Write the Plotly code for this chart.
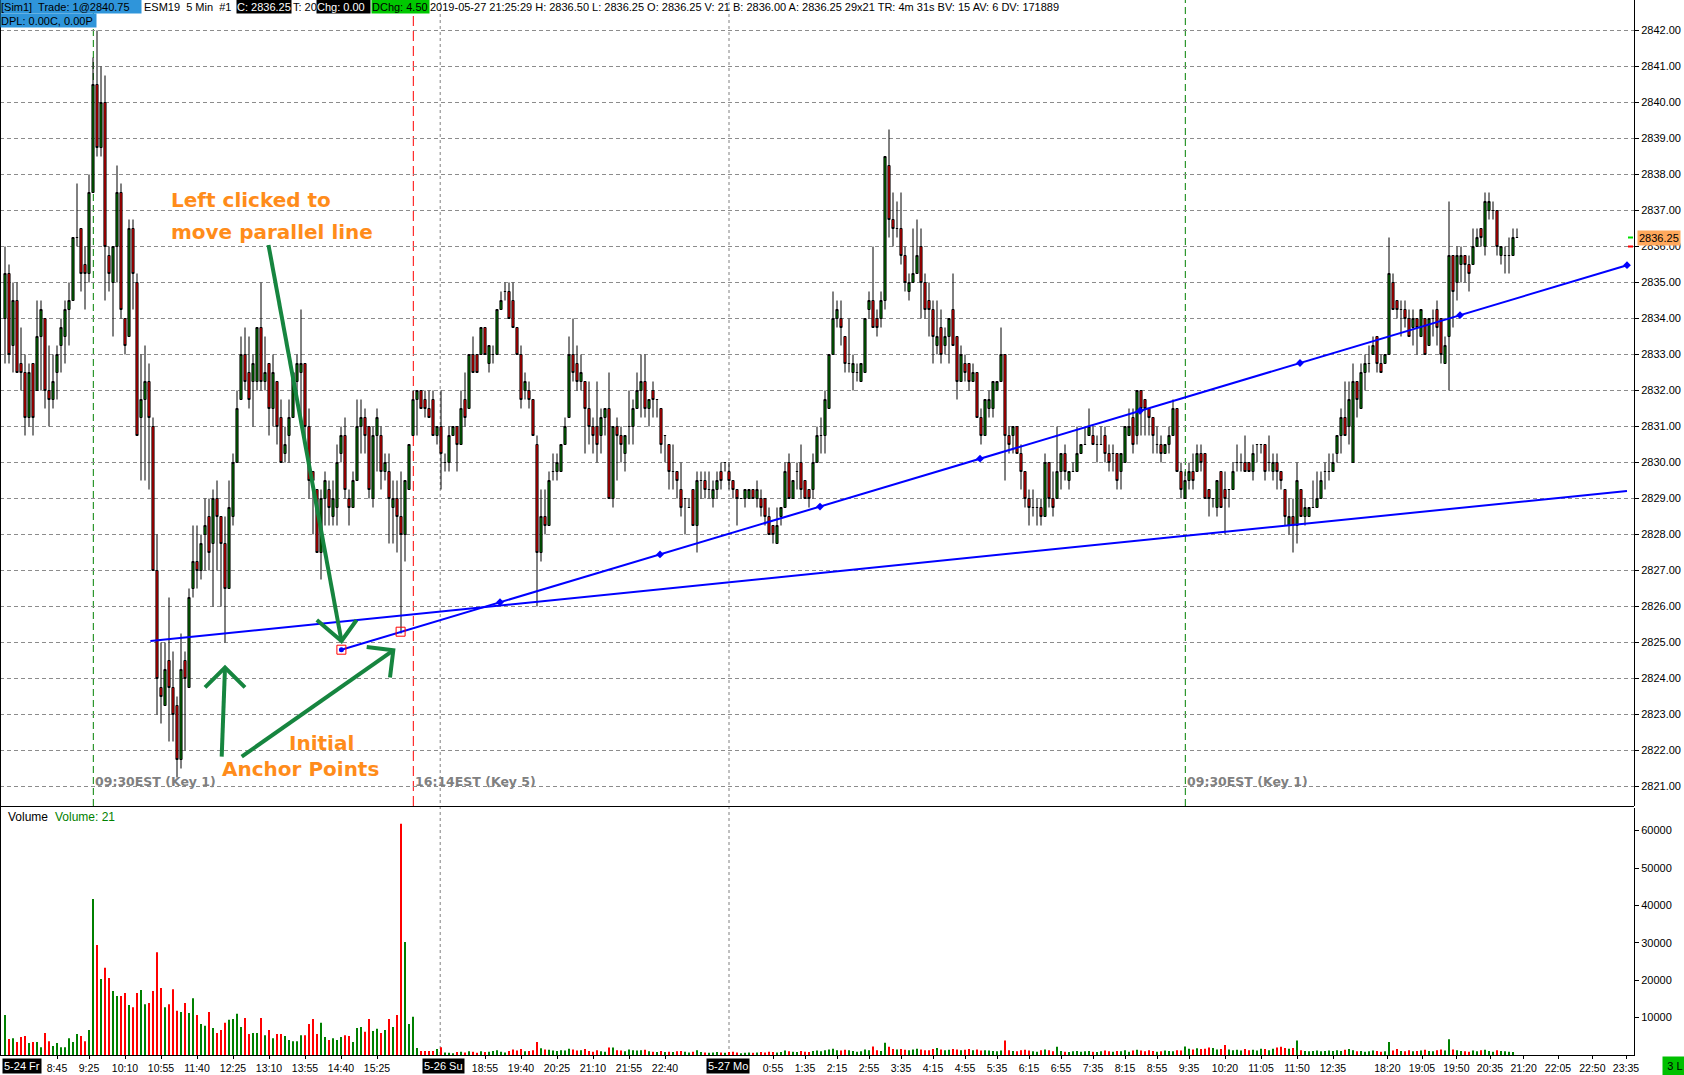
import plotly.graph_objects as go

# ------------------------------------------------------------------ DATA
# 5-minute bars, bar index 0 = 5-24 07:40. Rows are (open, high, low, close).
fri_pre = [
    (2834.0, 2836.0, 2832.75, 2835.25), (2835.25, 2835.5, 2832.75, 2833.0),
    (2833.25, 2835.0, 2832.5, 2834.5), (2834.5, 2835.0, 2832.5, 2832.5),
    (2832.75, 2833.75, 2832.0, 2832.5), (2832.5, 2833.0, 2830.75, 2831.25),
    (2831.25, 2832.75, 2831.0, 2832.5), (2832.75, 2832.75, 2830.75, 2831.25),
    (2832.0, 2834.5, 2832.0, 2833.5), (2833.5, 2834.5, 2832.0, 2834.25),
    (2834.0, 2834.0, 2831.5, 2832.0), (2832.0, 2833.25, 2831.0, 2831.75),
    (2831.75, 2833.0, 2831.5, 2832.25), (2832.5, 2833.25, 2831.75, 2833.0),
    (2833.25, 2834.0, 2832.5, 2833.75), (2833.5, 2834.5, 2832.75, 2834.25),
    (2834.25, 2835.0, 2833.25, 2834.5), (2834.5, 2836.25, 2834.5, 2836.25),
    (2836.25, 2837.75, 2836.0, 2836.25), (2836.5, 2836.5, 2834.75, 2835.25),
    (2835.5, 2836.0, 2834.25, 2835.25), (2835.25, 2838.0, 2835.0, 2837.5),
]
fri_rth = [
    (2837.5, 2841.25, 2837.5, 2840.5), (2840.5, 2842.0, 2838.5, 2838.75),
    (2838.75, 2841.0, 2838.5, 2840.0), (2840.0, 2840.75, 2834.5, 2836.0),
    (2835.75, 2836.0, 2834.75, 2835.25), (2835.0, 2836.0, 2833.5, 2836.0),
    (2836.0, 2838.25, 2835.0, 2837.5), (2837.5, 2837.75, 2834.0, 2834.25),
    (2834.0, 2834.0, 2833.0, 2833.25), (2833.5, 2836.75, 2833.5, 2836.5),
    (2836.5, 2836.75, 2834.25, 2835.25), (2835.0, 2835.25, 2830.75, 2830.75),
    (2831.25, 2833.0, 2829.5, 2831.75), (2831.75, 2833.25, 2829.5, 2832.25),
    (2832.25, 2832.75, 2829.25, 2831.25), (2831.0, 2831.25, 2827.0, 2827.0),
    (2827.0, 2828.0, 2823.0, 2824.0), (2823.75, 2825.0, 2822.75, 2823.5),
    (2823.25, 2825.0, 2823.25, 2824.25), (2824.5, 2826.25, 2822.25, 2823.75),
    (2823.75, 2824.75, 2822.25, 2823.0), (2823.25, 2823.5, 2821.25, 2821.75),
    (2821.75, 2825.25, 2821.5, 2824.25), (2824.5, 2824.75, 2822.0, 2824.0),
    (2823.75, 2826.5, 2823.75, 2826.25), (2826.5, 2828.25, 2826.25, 2827.25),
    (2827.25, 2828.25, 2826.5, 2827.0), (2827.0, 2828.0, 2826.75, 2827.75),
    (2828.0, 2829.0, 2827.0, 2828.25), (2828.5, 2829.0, 2827.0, 2827.5),
    (2827.75, 2829.25, 2826.0, 2829.0), (2829.0, 2829.5, 2827.0, 2828.5),
    (2828.5, 2828.5, 2826.0, 2827.75), (2827.75, 2828.5, 2825.0, 2826.5),
    (2826.5, 2829.5, 2826.5, 2828.75), (2828.5, 2830.25, 2828.25, 2830.0),
    (2830.0, 2832.0, 2830.0, 2831.5), (2831.75, 2833.5, 2831.75, 2833.0),
    (2833.0, 2833.75, 2832.0, 2832.25), (2832.5, 2833.5, 2831.5, 2831.75),
    (2832.25, 2833.0, 2831.0, 2832.75), (2832.25, 2833.75, 2832.0, 2833.75),
    (2833.75, 2835.0, 2832.0, 2832.25), (2832.25, 2833.5, 2832.0, 2832.5),
    (2832.75, 2832.75, 2830.75, 2831.5), (2831.5, 2833.0, 2831.0, 2832.5),
    (2832.25, 2832.25, 2830.5, 2831.0), (2831.25, 2831.75, 2830.0, 2830.0),
    (2830.25, 2831.0, 2830.0, 2830.5), (2830.75, 2831.75, 2830.0, 2831.25),
    (2831.25, 2832.5, 2831.25, 2832.5), (2832.25, 2833.0, 2831.75, 2832.75),
    (2832.5, 2834.25, 2831.0, 2832.75), (2832.75, 2832.75, 2830.5, 2831.0),
    (2831.0, 2831.5, 2829.0, 2829.5), (2829.75, 2829.75, 2828.0, 2829.5),
    (2829.25, 2829.25, 2827.5, 2827.5), (2827.5, 2829.25, 2826.75, 2829.0),
    (2829.0, 2829.75, 2828.25, 2829.5), (2829.25, 2829.5, 2828.25, 2828.75),
    (2828.5, 2829.5, 2828.25, 2829.0), (2828.75, 2830.5, 2828.25, 2830.0),
    (2830.25, 2831.0, 2830.0, 2830.75), (2830.75, 2831.25, 2829.0, 2829.25),
    (2829.0, 2829.25, 2828.25, 2828.75), (2828.75, 2829.75, 2828.75, 2829.5),
    (2829.5, 2831.75, 2829.5, 2831.0), (2831.0, 2831.75, 2830.25, 2831.25),
    (2831.25, 2831.5, 2830.25, 2830.75), (2831.0, 2831.0, 2829.0, 2829.25),
    (2829.0, 2831.0, 2828.75, 2830.75), (2830.75, 2831.5, 2829.75, 2831.25),
    (2830.75, 2831.0, 2829.25, 2829.75), (2829.75, 2830.25, 2829.5, 2830.0),
    (2829.75, 2830.25, 2827.75, 2829.0), (2828.75, 2829.5, 2827.75, 2829.0),
    (2829.0, 2829.5, 2827.5, 2828.5), (2828.5, 2829.75, 2825.25, 2828.0),
    (2828.0, 2829.5, 2827.25, 2829.5), (2829.25, 2830.5, 2829.25, 2830.5),
    (2830.75, 2832.0, 2830.75, 2831.75), (2831.75, 2832.0, 2830.75, 2832.0),
    (2832.0, 2832.0, 2831.5, 2831.5), (2831.75, 2832.0, 2831.25, 2831.5),
    (2831.5, 2832.0, 2831.25, 2831.25), (2831.75, 2832.0, 2830.75, 2830.75),
    (2830.75, 2831.0, 2830.5, 2831.0),
]
sun_eve = [
    (2831.0, 2832.0, 2829.25, 2830.25), (2830.0, 2830.25, 2829.75, 2830.0),
    (2830.0, 2831.0, 2829.75, 2830.75), (2830.75, 2831.0, 2830.75, 2831.0),
    (2831.0, 2831.0, 2829.75, 2830.5), (2830.5, 2832.0, 2830.5, 2831.5),
    (2831.75, 2832.5, 2831.0, 2831.25), (2831.5, 2833.0, 2831.5, 2833.0),
    (2833.0, 2833.5, 2832.5, 2832.5), (2833.0, 2833.0, 2832.5, 2832.5),
    (2833.0, 2833.75, 2833.0, 2833.75), (2833.75, 2833.75, 2833.0, 2833.0),
    (2832.75, 2833.25, 2832.5, 2833.25), (2833.0, 2833.25, 2832.75, 2833.0),
    (2833.0, 2834.25, 2833.0, 2834.25), (2834.25, 2834.75, 2834.25, 2834.5),
    (2834.75, 2835.0, 2834.5, 2834.75), (2834.75, 2835.0, 2834.0, 2834.0),
    (2834.5, 2835.0, 2833.75, 2833.75), (2833.75, 2833.75, 2833.0, 2833.0),
    (2833.0, 2833.25, 2831.5, 2831.75), (2832.0, 2832.5, 2831.75, 2832.25),
    (2832.0, 2832.25, 2831.5, 2831.75), (2831.75, 2831.75, 2830.75, 2830.75),
    (2830.5, 2830.75, 2826.0, 2827.5), (2827.5, 2829.25, 2827.25, 2828.5),
    (2828.5, 2829.25, 2828.0, 2828.25), (2828.25, 2829.75, 2828.25, 2829.5),
    (2829.75, 2830.25, 2829.5, 2829.75), (2829.75, 2830.25, 2829.5, 2830.0),
    (2829.75, 2830.5, 2829.75, 2830.5), (2830.5, 2831.25, 2830.5, 2831.0),
    (2831.25, 2833.5, 2831.25, 2833.0), (2833.0, 2834.0, 2832.25, 2832.5),
    (2832.75, 2833.25, 2832.0, 2832.25), (2832.25, 2833.0, 2832.0, 2832.5),
    (2832.25, 2832.25, 2830.25, 2831.5), (2831.5, 2832.25, 2830.5, 2831.0),
    (2831.0, 2831.25, 2830.25, 2830.75), (2831.0, 2832.25, 2830.0, 2830.5),
    (2830.75, 2831.5, 2830.25, 2831.25), (2831.25, 2831.5, 2830.75, 2831.5),
    (2831.5, 2832.5, 2829.0, 2829.0), (2829.0, 2831.0, 2828.75, 2831.0),
    (2831.0, 2831.25, 2829.5, 2830.75), (2830.75, 2831.0, 2830.0, 2830.5),
    (2830.25, 2830.75, 2829.75, 2830.75), (2831.0, 2832.0, 2830.5, 2831.0),
    (2831.0, 2831.75, 2830.5, 2831.5), (2831.5, 2832.5, 2831.5, 2832.0),
    (2832.0, 2833.0, 2831.25, 2832.25), (2832.25, 2833.0, 2831.25, 2831.5),
    (2831.5, 2831.75, 2831.0, 2831.75), (2832.0, 2832.25, 2831.25, 2831.75),
    (2831.75, 2831.75, 2831.25, 2831.75), (2831.5, 2831.5, 2830.25, 2830.5),
    (2830.75, 2830.75, 2830.0, 2830.75), (2830.5, 2830.5, 2829.25, 2829.75),
    (2829.75, 2830.5, 2829.25, 2829.75), (2829.75, 2829.75, 2829.0, 2829.5),
    (2829.25, 2830.0, 2828.5, 2828.75), (2829.0, 2829.0, 2828.0, 2829.0),
    (2828.75, 2829.0, 2828.75, 2828.75), (2829.25, 2829.25, 2828.25, 2828.25),
    (2828.25, 2829.75, 2827.5, 2829.5), (2829.5, 2829.75, 2829.0, 2829.5),
    (2829.5, 2829.75, 2829.0, 2829.25), (2829.25, 2829.75, 2829.0, 2829.25),
    (2829.0, 2829.5, 2828.75, 2829.25), (2829.25, 2829.75, 2829.0, 2829.5),
    (2829.75, 2830.0, 2829.25, 2829.5), (2830.0, 2830.0, 2829.75, 2830.0),
]
mon_night = [
    (2829.75, 2830.0, 2829.25, 2829.5), (2829.5, 2829.5, 2829.0, 2829.25),
    (2829.25, 2829.25, 2828.25, 2829.0), (2829.0, 2829.0, 2829.0, 2829.0),
    (2829.0, 2829.25, 2828.75, 2829.25), (2829.0, 2829.25, 2829.0, 2829.25),
    (2829.25, 2829.25, 2829.0, 2829.0), (2829.0, 2829.5, 2828.75, 2829.25),
    (2829.0, 2829.25, 2828.5, 2828.75), (2829.0, 2829.0, 2828.25, 2828.5),
    (2828.5, 2828.75, 2828.0, 2828.0), (2828.25, 2828.25, 2827.75, 2828.0),
    (2827.75, 2828.75, 2827.75, 2828.25), (2828.5, 2828.75, 2828.25, 2828.75),
    (2828.75, 2830.0, 2828.75, 2829.75), (2830.0, 2830.25, 2829.0, 2829.0),
    (2829.0, 2829.5, 2829.0, 2829.5), (2829.75, 2830.0, 2829.25, 2829.75),
    (2830.0, 2830.5, 2829.0, 2829.25), (2829.5, 2829.5, 2829.0, 2829.0),
    (2829.25, 2829.25, 2828.75, 2829.0), (2829.25, 2830.25, 2829.0, 2830.0),
    (2830.0, 2831.0, 2830.0, 2830.75), (2830.75, 2831.25, 2830.25, 2830.75),
    (2830.75, 2832.0, 2830.25, 2831.75), (2831.5, 2833.0, 2831.5, 2833.0),
    (2833.0, 2834.75, 2833.0, 2834.0), (2834.0, 2834.5, 2833.75, 2834.25),
    (2834.0, 2834.5, 2833.25, 2833.75), (2833.5, 2833.5, 2832.5, 2832.75),
    (2832.75, 2834.0, 2832.5, 2832.75), (2832.5, 2833.0, 2832.0, 2832.75),
    (2832.5, 2832.75, 2832.25, 2832.5), (2832.25, 2832.75, 2832.25, 2832.75),
    (2832.5, 2834.0, 2832.5, 2834.0), (2834.25, 2834.75, 2834.0, 2834.5),
    (2834.5, 2836.0, 2833.75, 2833.75), (2834.0, 2834.25, 2833.5, 2833.75),
    (2834.0, 2834.75, 2833.75, 2834.5), (2834.5, 2838.5, 2834.25, 2838.5),
    (2838.25, 2839.25, 2836.25, 2836.75), (2836.75, 2837.5, 2836.0, 2836.5),
    (2836.5, 2837.25, 2836.25, 2836.5), (2836.5, 2837.5, 2835.5, 2835.75),
    (2835.75, 2836.0, 2834.75, 2835.0), (2834.75, 2835.25, 2834.5, 2835.0),
    (2835.0, 2836.5, 2835.0, 2835.25), (2835.25, 2836.75, 2835.25, 2835.75),
    (2836.0, 2836.5, 2834.0, 2835.0), (2835.0, 2835.25, 2834.0, 2834.25),
    (2834.5, 2835.0, 2833.5, 2834.25), (2834.25, 2834.5, 2832.75, 2833.5),
    (2833.25, 2834.5, 2833.0, 2833.5), (2833.75, 2834.25, 2832.75, 2833.0),
    (2833.25, 2833.75, 2833.0, 2833.5), (2833.5, 2834.0, 2832.75, 2834.0),
    (2834.25, 2835.25, 2833.25, 2833.25), (2833.5, 2833.5, 2831.75, 2832.25),
    (2832.25, 2833.25, 2832.25, 2833.0), (2832.75, 2833.0, 2832.25, 2832.5),
    (2832.75, 2832.75, 2832.0, 2832.25), (2832.25, 2832.75, 2832.25, 2832.5),
    (2832.5, 2832.5, 2831.25, 2831.25), (2831.25, 2831.5, 2830.5, 2830.75),
    (2830.75, 2831.75, 2830.75, 2831.75), (2831.5, 2832.0, 2831.25, 2831.75),
    (2831.5, 2832.25, 2831.25, 2832.25), (2832.0, 2832.25, 2832.0, 2832.25),
    (2832.25, 2833.75, 2832.25, 2833.0), (2833.0, 2833.0, 2829.5, 2830.75),
    (2830.75, 2831.0, 2830.25, 2830.5), (2830.75, 2831.0, 2830.25, 2831.0),
    (2831.0, 2831.0, 2830.25, 2830.25), (2830.25, 2830.5, 2829.25, 2829.75),
    (2829.75, 2829.75, 2828.75, 2829.0), (2829.0, 2829.25, 2828.25, 2828.75),
    (2828.75, 2829.25, 2828.5, 2828.75), (2828.75, 2829.0, 2828.25, 2828.75),
    (2828.75, 2829.0, 2828.25, 2828.5), (2828.5, 2830.25, 2828.5, 2830.0),
    (2830.0, 2830.0, 2828.75, 2829.0), (2829.0, 2829.75, 2828.5, 2828.75),
    (2829.0, 2831.0, 2829.0, 2829.75), (2829.75, 2830.25, 2829.25, 2830.25),
    (2830.25, 2830.5, 2829.5, 2829.75), (2829.5, 2829.75, 2829.25, 2829.75),
    (2829.75, 2830.0, 2829.75, 2829.75), (2829.75, 2831.0, 2829.75, 2830.25),
    (2830.25, 2830.5, 2830.25, 2830.5), (2830.5, 2831.0, 2830.5, 2830.5),
    (2830.75, 2831.5, 2830.75, 2831.0), (2830.75, 2831.0, 2830.5, 2830.5),
    (2830.5, 2830.75, 2830.0, 2830.5), (2830.5, 2831.0, 2830.5, 2830.5),
    (2830.75, 2831.0, 2830.0, 2830.25), (2830.25, 2830.5, 2829.75, 2830.0),
    (2830.25, 2830.5, 2829.75, 2830.25), (2830.25, 2830.25, 2829.25, 2829.5),
    (2829.75, 2830.25, 2829.25, 2830.25), (2830.0, 2831.0, 2830.0, 2831.0),
    (2830.75, 2831.5, 2830.75, 2831.0), (2831.25, 2831.5, 2830.25, 2830.5),
    (2830.75, 2832.0, 2830.5, 2832.0), (2832.0, 2832.0, 2830.75, 2831.5),
    (2831.75, 2831.75, 2830.75, 2831.5), (2831.5, 2831.5, 2830.75, 2831.25),
    (2831.25, 2831.25, 2830.25, 2830.75), (2830.5, 2831.0, 2830.25, 2830.5),
    (2830.5, 2830.75, 2830.0, 2830.25), (2830.25, 2830.5, 2830.25, 2830.5),
    (2830.5, 2831.0, 2830.25, 2830.75), (2830.75, 2831.75, 2830.75, 2831.5),
    (2831.5, 2831.5, 2829.75, 2829.75), (2829.75, 2830.0, 2829.0, 2829.25),
]
mon_day = [
    (2829.0, 2829.75, 2829.0, 2829.5), (2829.5, 2830.0, 2829.25, 2829.75),
    (2829.75, 2830.25, 2829.25, 2829.5), (2829.75, 2830.5, 2829.75, 2830.25),
    (2830.25, 2830.5, 2829.75, 2830.0), (2830.25, 2830.25, 2829.0, 2829.0),
    (2829.25, 2829.25, 2828.5, 2829.0), (2829.0, 2829.0, 2828.75, 2829.0),
    (2828.75, 2829.5, 2828.5, 2829.5), (2829.75, 2829.75, 2828.75, 2828.75),
    (2829.25, 2829.75, 2828.0, 2829.0), (2829.25, 2829.25, 2828.75, 2829.25),
    (2829.25, 2830.0, 2829.25, 2829.75), (2830.0, 2830.5, 2829.75, 2830.0),
    (2830.0, 2830.25, 2829.75, 2830.0), (2830.0, 2830.75, 2829.75, 2829.75),
    (2830.0, 2830.0, 2829.75, 2829.75), (2829.75, 2830.5, 2829.5, 2830.25),
    (2830.5, 2830.5, 2830.0, 2830.5), (2830.5, 2830.5, 2830.25, 2830.5),
    (2830.5, 2830.5, 2829.5, 2829.75), (2830.0, 2830.75, 2829.75, 2830.0),
    (2829.75, 2830.25, 2829.5, 2830.0), (2830.0, 2830.25, 2829.25, 2829.75),
    (2829.75, 2829.75, 2829.25, 2829.5), (2829.25, 2829.25, 2828.25, 2828.5),
    (2828.25, 2829.0, 2828.0, 2828.5), (2828.5, 2829.0, 2827.5, 2828.25),
    (2828.25, 2830.0, 2827.75, 2829.5), (2829.25, 2829.25, 2828.5, 2828.5),
    (2828.5, 2829.0, 2828.25, 2828.75), (2828.5, 2828.75, 2828.5, 2828.75),
    (2828.75, 2829.5, 2828.75, 2828.75), (2828.75, 2829.75, 2828.75, 2829.0),
    (2829.0, 2829.75, 2829.0, 2829.5), (2829.75, 2830.0, 2829.25, 2829.75),
    (2829.75, 2830.25, 2829.5, 2829.75), (2829.75, 2830.25, 2829.75, 2830.0),
    (2830.25, 2830.75, 2830.0, 2830.75), (2830.75, 2831.5, 2830.25, 2831.25),
    (2831.25, 2832.25, 2830.75, 2830.75), (2831.0, 2832.25, 2830.5, 2831.75),
]
mon_eve = [
    (2830.0, 2832.75, 2830.0, 2832.25), (2832.25, 2832.25, 2831.25, 2831.75),
    (2831.5, 2832.75, 2831.5, 2832.5), (2832.5, 2833.0, 2832.0, 2832.75),
    (2832.75, 2833.25, 2832.5, 2832.75), (2833.0, 2833.5, 2833.0, 2833.25),
    (2833.5, 2833.5, 2832.5, 2832.75), (2832.75, 2833.0, 2832.5, 2832.5),
    (2832.75, 2833.0, 2832.75, 2833.0), (2833.0, 2836.25, 2833.0, 2835.25),
    (2835.0, 2835.25, 2834.25, 2834.25), (2834.5, 2834.5, 2834.0, 2834.25),
    (2834.25, 2834.5, 2833.5, 2834.25), (2834.25, 2834.5, 2833.75, 2834.0),
    (2834.0, 2834.25, 2833.5, 2833.5), (2833.75, 2834.25, 2833.25, 2834.0),
    (2834.0, 2834.0, 2833.0, 2833.75), (2833.5, 2834.25, 2833.5, 2834.25),
    (2834.0, 2834.0, 2833.0, 2833.0), (2833.25, 2834.0, 2833.25, 2834.0),
    (2834.0, 2834.25, 2833.5, 2834.0), (2834.25, 2834.5, 2833.25, 2833.75),
    (2834.0, 2834.0, 2832.75, 2833.0), (2832.75, 2833.5, 2832.75, 2833.25),
    (2833.5, 2837.25, 2832.0, 2835.75), (2835.75, 2835.75, 2833.75, 2834.75),
    (2835.0, 2836.0, 2834.5, 2835.75), (2835.5, 2836.0, 2835.0, 2835.75),
    (2835.75, 2835.75, 2835.0, 2835.5), (2835.5, 2835.75, 2834.75, 2835.25),
    (2835.5, 2836.5, 2835.5, 2836.0), (2836.0, 2836.5, 2836.0, 2836.25),
    (2836.5, 2836.5, 2836.0, 2836.25), (2836.0, 2837.5, 2835.75, 2837.25),
    (2837.0, 2837.5, 2836.75, 2837.25), (2837.0, 2837.25, 2836.75, 2837.0),
    (2837.0, 2837.0, 2835.75, 2836.0), (2835.75, 2836.0, 2835.5, 2836.0),
    (2835.75, 2836.0, 2835.25, 2835.75), (2835.75, 2836.25, 2835.25, 2835.75),
    (2835.75, 2836.5, 2835.75, 2836.25), (2836.25, 2836.5, 2836.25, 2836.25),
]

vol_fri = [
    10700, 4300, 4500, 3500, 4800, 5100, 3200, 3500, 3500, 2100,
    5900, 3700, 2400, 3200, 2100, 2100, 4500, 3500, 5600, 5100,
    3700, 6700, 41700, 29400, 20300, 23300, 20600, 17100, 15800, 15800,
    16600, 13400, 12800, 16600, 17400, 13600, 13900, 17100, 27500, 17900,
    12800, 13600, 17600, 11800, 11500, 13900, 11200, 15200, 10700, 8300,
    7800, 11500, 7200, 5900, 6700, 8600, 9400, 9600, 11000, 7500,
    9900, 5600, 5900, 5900, 9900, 5300, 6700, 4500, 5600, 5600,
    5100, 4000, 3700, 3700, 5300, 5300, 8300, 9600, 5600, 8600,
    4800, 4000, 4500, 4000, 4800, 5300, 5100, 3500, 7200, 7500,
    6200, 9600, 6400, 7000, 5900, 6700, 9600, 7500, 10700, 61800,
    30200, 8300, 10200, 1900, 1100, 1100, 1100, 1100, 1600,
]
vol_sun = [
    2050, 700, 600, 500, 800, 900, 700, 1000, 900, 600,
    1000, 800, 900, 1100, 1300, 900, 700, 1100, 1500, 1200, 1600, 1000, 1100, 1300,
    3500, 1800, 1500, 1400, 1200, 1100, 1300, 1200, 1700,
    1500, 1200, 1300, 1600, 1100, 900, 1300, 1000, 900, 2000, 2000,
    1300, 1200, 1000, 1500, 1300, 1200, 1300, 1400, 1000, 900, 800, 1100, 800,
    900, 800, 1000, 1100, 900, 700, 900, 1300, 800, 700, 600, 700, 800, 700, 600,
]
vol_mon = [
    800, 900, 700, 500, 600, 700, 600, 700, 800, 700, 900, 800,
    700, 800, 1200, 1000, 900, 800, 1100, 900, 800, 1100, 1200, 1000, 1300, 1500,
    1700, 1300, 1200, 1400, 1300, 1100, 900, 1000, 1500, 1300,
    2300, 1300, 1100, 3300, 2200,
    1600, 1500, 1600, 1400, 1300, 1500, 1700, 1500, 1300, 1300, 1600, 1900,
    1500, 1300, 1400, 1600, 1500, 1300, 1400, 1600, 1300, 1500, 1200, 1300, 1200, 1100, 1000, 1200,
    3900, 1300, 1100, 1000, 1300, 1400, 1200, 1000, 900, 1300, 1500, 1300, 1000, 2200,
    1100, 900, 800, 1000, 1100, 900, 1000, 1100, 900, 800, 1000, 1200, 1000, 900, 1100, 1000,
    1300, 900, 1200, 1400, 1200, 1000, 1300, 1100, 900, 1000, 1200, 1100, 1000, 1300, 1200,
    2300, 1700, 1500, 1800, 1600, 1700, 2000, 1900, 1500, 1600, 2700,
    1500, 1300, 1400, 1200, 1600, 1300, 1400, 1200, 1700, 1600, 1300, 1700, 2000, 2200, 1900, 1700, 1900,
    3900, 1300, 1100, 1000, 1100, 1200, 1000, 1100, 1200, 1100, 1300, 1100, 1400, 1600, 1300, 1000,
    1100, 900, 1000, 1200, 1100, 900, 1000,
    3500, 1200, 1600, 1100, 1000, 1300, 1000, 1100, 1200, 1400, 1100, 1000, 1300, 1500, 1200,
    4200, 1500, 1300, 1100, 1000, 900, 1200, 1000, 1300, 1400, 1100, 900, 1300, 1100, 1000, 900, 800, 21,
]

# time-axis labels (bar index where each label sits)
tick_pos = [13, 21, 30, 39, 48, 57, 66, 75, 84, 93,
            120, 129, 138, 147, 156, 165,
            192, 200, 208, 216, 224, 232, 240, 248, 256, 264, 272, 280, 288, 296,
            305, 314, 323, 332,
            345.6, 354.25, 362.85, 371.25, 379.65, 388.25, 396.85, 405.25]
tick_text = ["8:45", "9:25", "10:10", "10:55", "11:40", "12:25", "13:10", "13:55", "14:40", "15:25",
             "18:55", "19:40", "20:25", "21:10", "21:55", "22:40",
             "0:55", "1:35", "2:15", "2:55", "3:35", "4:15", "4:55", "5:35", "6:15", "6:55",
             "7:35", "8:15", "8:55", "9:35", "10:20", "11:05", "11:50", "12:35",
             "18:20", "19:05", "19:50", "20:35", "21:20", "22:05", "22:50", "23:35"]
date_labels = ["5-24 Fr", "5-26 Su", "5-27 Mo"]
date_pos = [-0.75, 104.25, 175.25]      # bar index of each date box's left edge

price_ticks = list(range(2821, 2843))
vol_ticks = [10000, 20000, 30000, 40000, 50000, 60000]

# user drawings (bar index, price)
line_a_x, line_a_y = [36.35, 405.5], [2825.04, 2829.21]
line_b_x, line_b_y = [84.1, 405.5], [2824.80, 2835.48]
line_b_marks = [123.75, 163.75, 203.75, 243.75, 283.75, 323.75, 363.75, 405.5]
anchor_x, anchor_y = [84.1, 98.9], [2824.80, 2825.30]

# session markers: (bar index, label)
session_marks = [(22.08, "09:30EST (Key 1)", "#008000"),
                 (102.08, "16:14EST (Key 5)", "#FF0000"),
                 (295.08, "09:30EST (Key 1)", "#008000")]
day_breaks = [108.8, 181.0]

last_price = 2836.25

# ------------------------------------------------------------------ LAYOUT HELPERS
W, H = 1684, 1075
ML, MR, MT, MB = 0, 50, 0, 20
PW, PH = W - ML - MR, H - MT - MB
PRICE_BOTTOM_PX, VOL_TOP_PX = 806, 808


def fx(px):
    return px / PW


def fy(py):
    return (PH - py) / PH


def xi(px):      # bar index at a screen x (for annotation drawings)
    return (px - 5) / 4


def pp(py):      # price at a screen y (for annotation drawings)
    return 2842 - (py - 30.5) / 36


REG = "Liberation Sans, Arial, sans-serif"
BOLD = "DejaVu Sans, Verdana, sans-serif"

ohlc = fri_pre + fri_rth + sun_eve + mon_night + mon_day + mon_eve
vols = vol_fri + vol_sun + vol_mon
n = min(len(ohlc), len(vols))
ohlc, vols = ohlc[:n], vols[:n]
idx = list(range(n))
o = [r[0] for r in ohlc]
h = [r[1] for r in ohlc]
l = [r[2] for r in ohlc]
c = [r[3] for r in ohlc]
vcol = ["#008000" if c[k] >= o[k] else "#FF0000" for k in range(n)]

fig = go.Figure()

fig.add_trace(go.Candlestick(
    x=idx, open=o, high=h, low=l, close=c, xaxis="x", yaxis="y",
    increasing=dict(line=dict(color="black", width=1), fillcolor="#008000"),
    decreasing=dict(line=dict(color="black", width=1), fillcolor="#FF0000"),
    whiskerwidth=0, showlegend=False, hoverinfo="skip"))

fig.add_trace(go.Bar(x=idx, y=vols, xaxis="x2", yaxis="y2", marker=dict(color=vcol, line=dict(width=0)),
                     showlegend=False, hoverinfo="skip"))

# trend lines
fig.add_trace(go.Scatter(x=line_a_x, y=line_a_y, mode="lines", line=dict(color="#0000FF", width=2),
                         xaxis="x", yaxis="y", showlegend=False, hoverinfo="skip"))
fig.add_trace(go.Scatter(x=line_b_x, y=line_b_y, mode="lines", line=dict(color="#0000FF", width=2),
                         xaxis="x", yaxis="y", showlegend=False, hoverinfo="skip"))
slope_b = (line_b_y[1] - line_b_y[0]) / (line_b_x[1] - line_b_x[0])
fig.add_trace(go.Scatter(x=line_b_marks, y=[line_b_y[0] + (xx - line_b_x[0]) * slope_b for xx in line_b_marks],
                         mode="markers", marker=dict(symbol="diamond", size=6, color="#0000FF"),
                         xaxis="x", yaxis="y", showlegend=False, hoverinfo="skip"))
fig.add_trace(go.Scatter(x=anchor_x[:1], y=anchor_y[:1], mode="markers",
                         marker=dict(symbol="circle", size=5, color="#0000FF"),
                         xaxis="x", yaxis="y", showlegend=False, hoverinfo="skip"))
fig.add_trace(go.Scatter(x=anchor_x, y=anchor_y, mode="markers",
                         marker=dict(symbol="square-open", size=9, color="#FF0000", line=dict(width=1)),
                         xaxis="x", yaxis="y", showlegend=False, hoverinfo="skip"))

shapes = []
annos = []

# session vertical lines (price pane) + day breaks (both panes)
for xpos, label, col in session_marks:
    dash = "10px,5px" if col == "#FF0000" else "7px,4px"
    shapes.append(dict(type="line", xref="x", yref="paper", x0=xpos, x1=xpos, y0=fy(PRICE_BOTTOM_PX), y1=1,
                       line=dict(color=col, width=1, dash=dash), layer="below"))
    annos.append(dict(x=xpos, y=pp(781), xref="x", yref="y", text=label, showarrow=False,
                      xanchor="left", yanchor="middle", xshift=0,
                      font=dict(family=BOLD, size=12.5, color="#808080", weight="bold")))
for xpos in day_breaks:
    shapes.append(dict(type="line", xref="x", yref="paper", x0=xpos, x1=xpos, y0=0, y1=1,
                       line=dict(color="#808080", width=1, dash="3px,3px"), layer="below"))

# pane borders
shapes.append(dict(type="line", xref="paper", yref="paper", x0=0, x1=1, y0=fy(806.5), y1=fy(806.5),
                   line=dict(color="black", width=1)))
shapes.append(dict(type="line", xref="paper", yref="paper", x0=fx(0.5), x1=fx(0.5), y0=0, y1=1,
                   line=dict(color="black", width=1)))

# green annotation arrows (screen positions)
GREEN = "#16853F"
arrows = [
    [(268.5, 245), (341.5, 641)],
    [(316.8, 620), (341.5, 641), (356.6, 620)],
    [(221.7, 756.6), (225, 667.6)],
    [(205, 687.4), (225, 667.6), (245, 687.4)],
    [(241.7, 756.6), (393.3, 650.3)],
    [(366.7, 646.9), (393.3, 650.3), (390, 677.5)],
]
for pts in arrows:
    path = "M " + " L ".join(f"{xi(px)},{pp(py)}" for px, py in pts)
    shapes.append(dict(type="path", xref="x", yref="y", path=path,
                       line=dict(color=GREEN, width=4)))

ORANGE = "#FF8C1A"
for txt, px, py, anc in [("Left clicked to", 169, 200, "left"), ("move parallel line", 169, 232, "left"),
                         ("Initial", 321, 743, "center"), ("Anchor Points", 300.5, 769, "center")]:
    annos.append(dict(x=fx(px), y=fy(py), xref="paper", yref="paper", text=txt, showarrow=False,
                      xanchor=anc, yanchor="middle",
                      font=dict(family=BOLD, size=20, color=ORANGE, weight="bold")))

# header
BLUE = "#2F95DA"
hdr = [
    ("[Sim1]  Trade: 1@2840.75", 0, 6.5, BLUE, "black", 140),
    ("ESM19  5 Min  #1", 143, 6.5, None, "black", None),
    ("C: 2836.25", 236, 6.5, "black", "white", 54),
    ("T: 20", 292, 6.5, None, "black", None),
    ("Chg: 0.00", 316, 6.5, "black", "white", 53),
    ("DChg: 4.50", 371, 6.5, "#00C800", "black", 57),
    ("2019-05-27 21:25:29 H: 2836.50 L: 2836.25 O: 2836.25 V: 21 B: 2836.00 A: 2836.25 29x21 "
     "TR: 4m 31s BV: 15 AV: 6 DV: 171889", 429, 6.5, None, "black", None),
    ("DPL: 0.00C, 0.00P", 0, 20.5, BLUE, "black", 95),
]
for txt, px, py, bg, fg, wd in hdr:
    a = dict(x=fx(px), y=fy(py), xref="paper", yref="paper", text=txt, showarrow=False,
             xanchor="left", yanchor="middle", align="left", borderpad=0,
             font=dict(family=REG, size=11, color=fg))
    if bg:
        a["bgcolor"] = bg
        a["height"] = 13
    if wd:
        a["width"] = wd
    annos.append(a)

# volume pane title
annos.append(dict(x=fx(6), y=fy(816.5), xref="paper", yref="paper", text="Volume", showarrow=False,
                  xanchor="left", yanchor="middle", font=dict(family=REG, size=12, color="black")))
annos.append(dict(x=fx(53), y=fy(816.5), xref="paper", yref="paper", text="Volume: 21", showarrow=False,
                  xanchor="left", yanchor="middle", font=dict(family=REG, size=12, color="#008000")))

# date boxes on time axis
for txt, xpos in zip(date_labels, date_pos):
    annos.append(dict(x=xpos, y=fy(1066), xref="x2", yref="paper", text=txt, showarrow=False,
                      xanchor="left", yanchor="middle", bgcolor="black", borderpad=1,
                      font=dict(family=REG, size=11, color="white")))
annos.append(dict(x=fx(1662), y=fy(1066), xref="paper", yref="paper", text="3 L", showarrow=False,
                  xanchor="left", yanchor="middle", bgcolor="#00C000", width=22, height=16,
                  font=dict(family=REG, size=11, color="black")))

# last price marker on price scale
annos.append(dict(x=fx(1637), y=last_price, xref="paper", yref="y", text=f"{last_price:.2f}",
                  showarrow=False, xanchor="left", yanchor="middle", bgcolor="#FFA85C", borderpad=1,
                  font=dict(family=REG, size=11, color="black")))
shapes.append(dict(type="line", xref="paper", yref="y", x0=fx(1628), x1=fx(1633), y0=last_price, y1=last_price,
                   line=dict(color="#00E000", width=2)))
shapes.append(dict(type="line", xref="paper", yref="y", x0=fx(1628), x1=fx(1633), y0=last_price - 0.25,
                   y1=last_price - 0.25, line=dict(color="#FF0000", width=2)))

xrange_ = [xi(0), xi(PW)]
fig.update_layout(
    width=W, height=H, margin=dict(l=ML, r=MR, t=MT, b=MB, autoexpand=False),
    paper_bgcolor="white", plot_bgcolor="white", showlegend=False, bargap=0.5, boxgap=0.25,
    hovermode=False, dragmode=False,
    xaxis=dict(domain=[0, 1], range=xrange_, anchor="y", showgrid=False, zeroline=False,
               showticklabels=False, ticks="", rangeslider=dict(visible=False), showline=False,
               fixedrange=True),
    xaxis2=dict(domain=[0, 1], range=xrange_, anchor="y2", matches="x", showgrid=False, zeroline=False,
                tickmode="array", tickvals=tick_pos, ticktext=tick_text, ticks="outside", ticklen=3,
                tickcolor="black", tickfont=dict(family=REG, size=10.5, color="black"),
                showline=True, linecolor="black", linewidth=1, automargin=False, fixedrange=True),
    yaxis=dict(domain=[fy(PRICE_BOTTOM_PX), 1], range=[pp(PRICE_BOTTOM_PX), pp(0)], side="right",
               tickmode="array", tickvals=price_ticks, ticktext=[f"{v:.2f}" for v in price_ticks],
               showgrid=True, gridcolor="#8C8C8C", gridwidth=1, griddash="4px,3px", zeroline=False,
               ticks="outside", ticklen=4, tickcolor="black", showline=True, linecolor="black",
               tickfont=dict(family=REG, size=11, color="black"), automargin=False, fixedrange=True),
    yaxis2=dict(domain=[0, fy(VOL_TOP_PX)], range=[0, (PH - VOL_TOP_PX) / 37.4 * 10000], side="right",
                tickmode="array", tickvals=vol_ticks, ticktext=[str(v) for v in vol_ticks],
                showgrid=False, zeroline=False, ticks="outside", ticklen=4, tickcolor="black",
                showline=True, linecolor="black",
                tickfont=dict(family=REG, size=11, color="black"), automargin=False, fixedrange=True),
    shapes=shapes, annotations=annos,
)

fig.write_html("out.html", config={"displayModeBar": False, "staticPlot": True},
               post_script="document.body.style.margin='0';document.body.style.overflow='hidden';")
